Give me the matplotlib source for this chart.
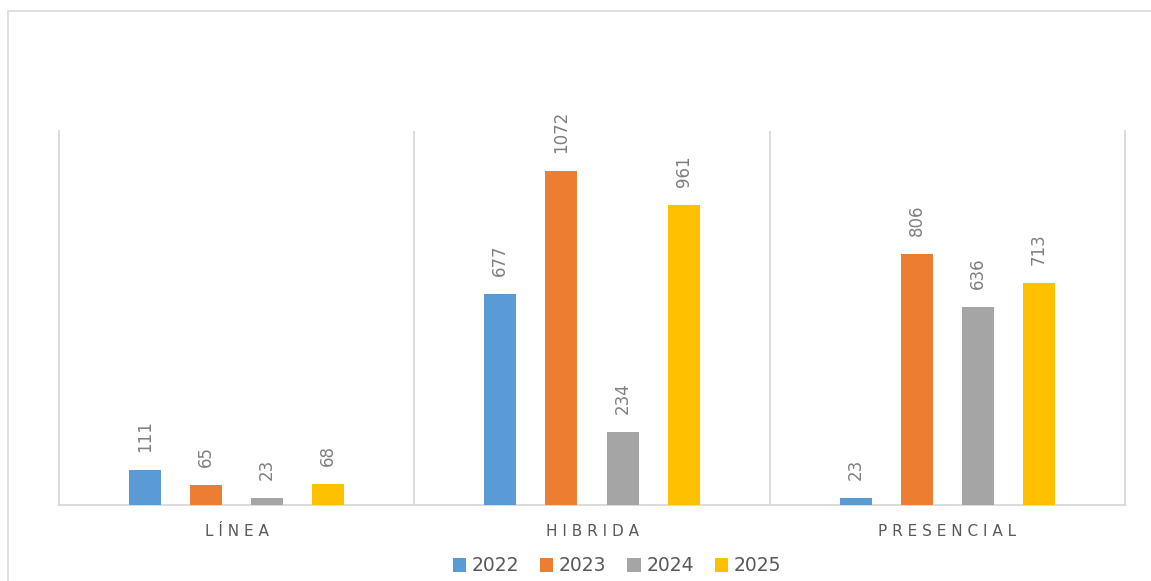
import numpy as np
import matplotlib.pyplot as plt
from matplotlib.patches import Rectangle

# Datos
categorias = ['L Í N E A', 'H I B R I D A', 'P R E S E N C I A L']
anios = ['2022', '2023', '2024', '2025']
valores_2022 = [111, 677, 23]
valores_2023 = [65, 1072, 806]
valores_2024 = [23, 234, 636]
valores_2025 = [68, 961, 713]
colores = ['#5B9BD5', '#ED7D31', '#A5A5A5', '#FFC000']

series = [valores_2022, valores_2023, valores_2024, valores_2025]
gris_texto = '#595959'
gris_etiqueta = '#7F7F7F'
gris_linea = '#D9D9D9'

fig = plt.figure(figsize=(11.51, 5.81), dpi=100)
ax = fig.add_axes([59 / 1151, 1 - 505 / 581, (1125 - 59) / 1151, (505 - 131) / 581])

# Borde exterior del gráfico (cortado a la derecha y abajo)
fig.patches.append(Rectangle((8 / 1151, -0.1), 1.2, 1 - 11 / 581 + 0.1,
                             transform=fig.transFigure, fill=False,
                             edgecolor=gris_linea, linewidth=1.2))

x = np.arange(len(categorias))
paso = 0.172
ancho = 0.09
for i, (vals, color) in enumerate(zip(series, colores)):
    pos = x + (i - 1.5) * paso
    barras = ax.bar(pos, vals, width=ancho, color=color, label=anios[i], zorder=3)
    for b, v in zip(barras, vals):
        ax.annotate(str(v), (b.get_x() + b.get_width() / 2, v),
                    xytext=(0, 13), textcoords='offset points',
                    rotation=90, ha='center', va='bottom',
                    fontsize=12, color=gris_etiqueta)

ax.set_xlim(-0.5, 2.5)
ax.set_ylim(0, 1200)
ax.set_yticks([])
ax.set_xticks(x)
ax.set_xticklabels(categorias, fontsize=11, color=gris_texto)
ax.tick_params(axis='x', length=0, pad=14)

ax.spines['top'].set_visible(False)
for lado in ['left', 'right', 'bottom']:
    ax.spines[lado].set_color(gris_linea)
    ax.spines[lado].set_linewidth(1.3)
for sep in [0.5, 1.5]:
    ax.axvline(sep, color=gris_linea, linewidth=1.3, zorder=1)

fig.legend(loc='center', bbox_to_anchor=(0.536, 0.026), ncol=4, frameon=False,
           fontsize=13.5, handlelength=0.72, handleheight=0.72,
           handletextpad=0.3, columnspacing=1.1, labelcolor=gris_texto)

fig.savefig('out.png', dpi=100)
